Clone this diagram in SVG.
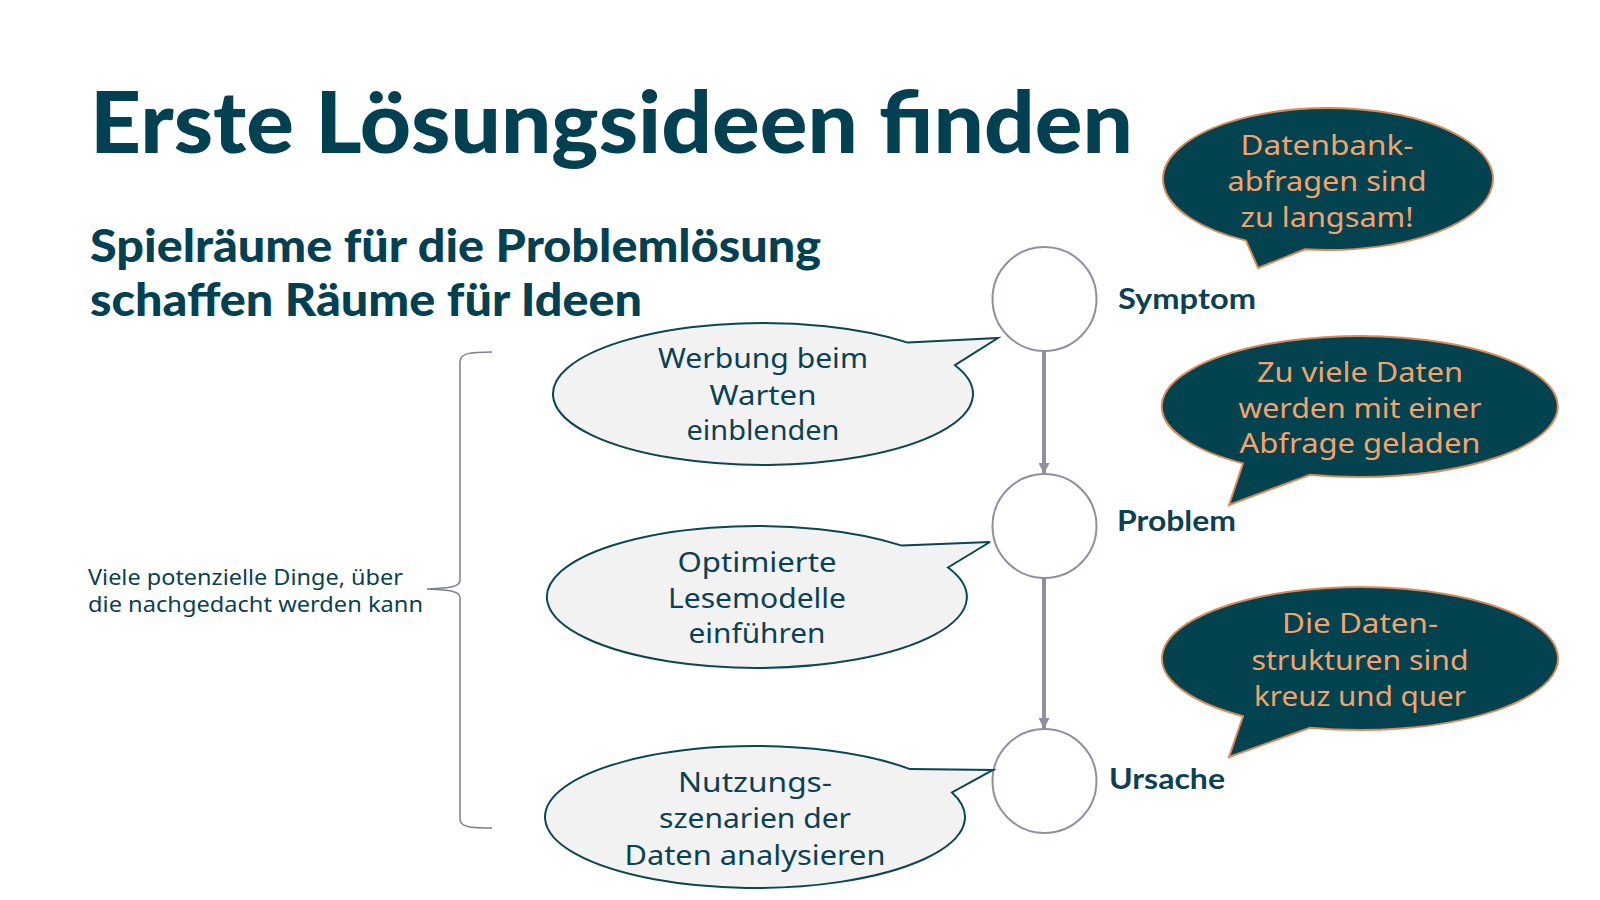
<svg xmlns="http://www.w3.org/2000/svg" width="1600" height="900" viewBox="0 0 1600 900">
  <style>
    .title { font-family: Lato, "Liberation Sans", sans-serif; font-weight: 900; fill: #034152; }
    .label { font-family: Lato, "Liberation Sans", sans-serif; font-weight: 700; font-size: 28px; fill: #0b4152; }
    .body { font-family: "Noto Sans", "Liberation Sans", sans-serif; fill: #0b4152; }
    .ltxt { font-family: "Noto Sans", "Liberation Sans", sans-serif; font-size: 28px; fill: #0b4152; text-anchor: middle; }
    .dtxt { font-family: "Noto Sans", "Liberation Sans", sans-serif; font-size: 28px; fill: #f5a36c; text-anchor: middle; }
    .light { fill: #f2f2f2; stroke: #0b4654; stroke-width: 2; stroke-linejoin: miter; }
    .dark { fill: #03424f; stroke: #d98a5a; stroke-width: 2; stroke-linejoin: miter; }
    .circ { fill: #ffffff; stroke: #8e8fa3; stroke-width: 2; }
    .conn { stroke: #8e8fa3; stroke-width: 4; fill: none; }
    .brace { stroke: #7f8090; stroke-width: 1.5; fill: none; }
  </style>
  <defs>
    <marker id="arr" viewBox="0 0 10 10" refX="10" refY="5" markerWidth="11" markerHeight="11" markerUnits="userSpaceOnUse" orient="auto">
      <path d="M0,0 L10,5 L0,10 z" fill="#8e8fa3"/>
    </marker>
  </defs>
  <rect width="1600" height="900" fill="#ffffff"/>

  <g id="heading">
    <text class="title" x="90" y="153" font-size="85" textLength="1043" lengthAdjust="spacingAndGlyphs">Erste Lösungsideen finden</text>
    <text class="title" x="90" y="262" font-size="45" textLength="731" lengthAdjust="spacingAndGlyphs">Spielräume für die Problemlösung</text>
    <text class="title" x="90" y="316" font-size="45" textLength="552" lengthAdjust="spacingAndGlyphs">schaffen Räume für Ideen</text>
  </g>

  <g id="brace-note">
    <text class="body" x="88" y="585" font-size="21" textLength="315" lengthAdjust="spacingAndGlyphs">Viele potenzielle Dinge, über</text>
    <text class="body" x="88" y="612" font-size="21" textLength="335" lengthAdjust="spacingAndGlyphs">die nachgedacht werden kann</text>
    <path class="brace" d="M492,352 C470,352 460,353 460,362 L460,580 C460,587 450,588 427,589 C450,590 460,591 460,598 L460,819 C460,827 470,828 492,828"/>
  </g>

  <g id="connectors">
    <path class="conn" d="M1044,351 L1044,474" marker-end="url(#arr)"/>
    <path class="conn" d="M1044,578 L1044,729" marker-end="url(#arr)"/>
  </g>

  <g id="symptom">
    <circle class="circ" cx="1044.5" cy="299" r="52"/>
    <text class="label" x="1118" y="309" textLength="138" lengthAdjust="spacingAndGlyphs">Symptom</text>
  </g>
  <g id="problem">
    <circle class="circ" cx="1044.5" cy="526" r="52"/>
    <text class="label" x="1117" y="531" textLength="119" lengthAdjust="spacingAndGlyphs">Problem</text>
  </g>
  <g id="ursache">
    <circle class="circ" cx="1044.5" cy="781" r="52"/>
    <text class="label" x="1109" y="789" textLength="116" lengthAdjust="spacingAndGlyphs">Ursache</text>
  </g>

  <g id="idea-werbung">
    <path class="light" d="M908,342.6 L998,338 L955,365.2 A210,71 0 1 1 908,342.6 Z"/>
    <text class="ltxt" x="763" y="368" textLength="210" lengthAdjust="spacingAndGlyphs">Werbung beim</text>
    <text class="ltxt" x="763" y="405" textLength="107" lengthAdjust="spacingAndGlyphs">Warten</text>
    <text class="ltxt" x="763" y="440" textLength="153" lengthAdjust="spacingAndGlyphs">einblenden</text>
  </g>
  <g id="idea-lesemodelle">
    <path class="light" d="M902,545.6 L990,542 L948,567.5 A210,71 0 1 1 902,545.6 Z"/>
    <text class="ltxt" x="757" y="572" textLength="159" lengthAdjust="spacingAndGlyphs">Optimierte</text>
    <text class="ltxt" x="757" y="608" textLength="178" lengthAdjust="spacingAndGlyphs">Lesemodelle</text>
    <text class="ltxt" x="757" y="643" textLength="137" lengthAdjust="spacingAndGlyphs">einführen</text>
  </g>
  <g id="idea-nutzung">
    <path class="light" d="M910,769.1 L993,770 L952,792.4 A210,71 0 1 1 910,769.1 Z"/>
    <text class="ltxt" x="755" y="792" textLength="154" lengthAdjust="spacingAndGlyphs">Nutzungs-</text>
    <text class="ltxt" x="755" y="828" textLength="192" lengthAdjust="spacingAndGlyphs">szenarien der</text>
    <text class="ltxt" x="755" y="865" textLength="261" lengthAdjust="spacingAndGlyphs">Daten analysieren</text>
  </g>

  <g id="quote-symptom">
    <path class="dark" d="M1246,240.6 L1258,268 L1305,249.3 A165,71 0 1 0 1246,240.6 Z"/>
    <text class="dtxt" x="1327" y="155" textLength="173" lengthAdjust="spacingAndGlyphs">Datenbank-</text>
    <text class="dtxt" x="1327" y="191" textLength="199" lengthAdjust="spacingAndGlyphs">abfragen sind</text>
    <text class="dtxt" x="1327" y="227" textLength="173" lengthAdjust="spacingAndGlyphs">zu langsam!</text>
  </g>
  <g id="quote-problem">
    <path class="dark" d="M1243,463.4 L1229,505 L1310,474.7 A198,70.5 0 1 0 1243,463.4 Z"/>
    <text class="dtxt" x="1360" y="382" textLength="206" lengthAdjust="spacingAndGlyphs">Zu viele Daten</text>
    <text class="dtxt" x="1360" y="418" textLength="243" lengthAdjust="spacingAndGlyphs">werden mit einer</text>
    <text class="dtxt" x="1360" y="453" textLength="241" lengthAdjust="spacingAndGlyphs">Abfrage geladen</text>
  </g>
  <g id="quote-ursache">
    <path class="dark" d="M1243,716.2 L1229,757 L1310,727.7 A198,71.5 0 1 0 1243,716.2 Z"/>
    <text class="dtxt" x="1360" y="633" textLength="156" lengthAdjust="spacingAndGlyphs">Die Daten-</text>
    <text class="dtxt" x="1360" y="670" textLength="217" lengthAdjust="spacingAndGlyphs">strukturen sind</text>
    <text class="dtxt" x="1360" y="706" textLength="212" lengthAdjust="spacingAndGlyphs">kreuz und quer</text>
  </g>
</svg>
